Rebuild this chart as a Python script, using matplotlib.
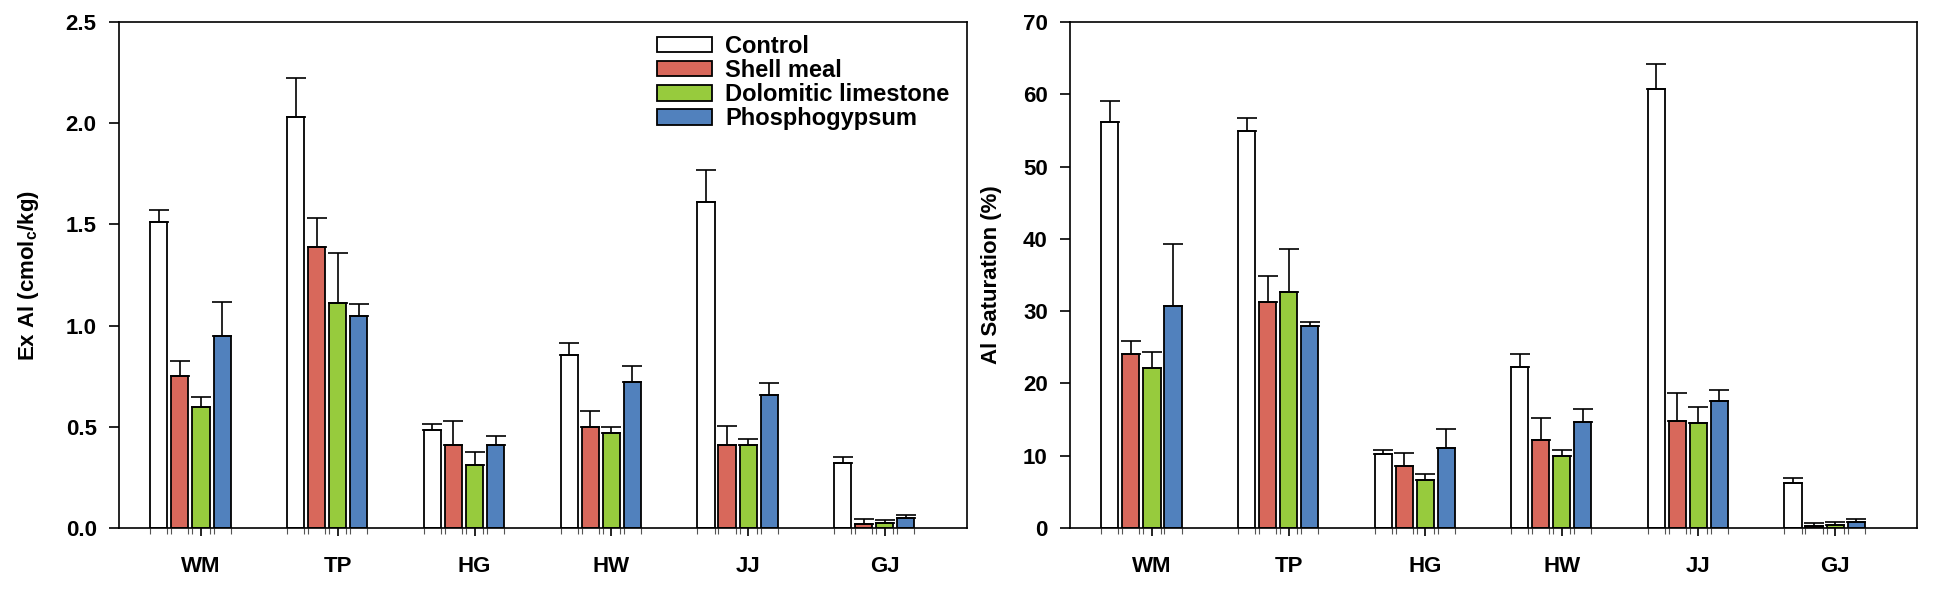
import numpy as np
import matplotlib
matplotlib.use("Agg")
import matplotlib.pyplot as plt

plt.rcParams["font.family"] = ["Liberation Sans", "DejaVu Sans"]
plt.rcParams["font.weight"] = "bold"
plt.rcParams["mathtext.fontset"] = "custom"
plt.rcParams["mathtext.rm"] = "Liberation Sans:bold"
plt.rcParams["mathtext.bf"] = "Liberation Sans:bold"
plt.rcParams["mathtext.it"] = "Liberation Sans:bold"

# 数据
sites = ["WM", "TP", "HG", "HW", "JJ", "GJ"]
treatments = ["Control", "Shell meal", "Dolomitic limestone", "Phosphogypsum"]
colors = ["#FFFFFF", "#D8685B", "#97CB3D", "#5181BD"]

# Ex Al (cmolc/kg)
exal_control = [1.51, 2.03, 0.485, 0.855, 1.61, 0.32]
exal_shell = [0.75, 1.39, 0.41, 0.50, 0.41, 0.02]
exal_dolo = [0.60, 1.11, 0.31, 0.47, 0.41, 0.026]
exal_phos = [0.95, 1.045, 0.41, 0.72, 0.655, 0.048]

exal_control_err = [0.06, 0.195, 0.03, 0.06, 0.16, 0.03]
exal_shell_err = [0.075, 0.14, 0.12, 0.08, 0.095, 0.022]
exal_dolo_err = [0.045, 0.25, 0.065, 0.03, 0.03, 0.015]
exal_phos_err = [0.165, 0.06, 0.045, 0.08, 0.06, 0.016]

# Al saturation (%)
alsat_control = [56.1, 54.9, 10.2, 22.3, 60.7, 6.2]
alsat_shell = [24.1, 31.2, 8.55, 12.15, 14.8, 0.32]
alsat_dolo = [22.2, 32.7, 6.7, 10.0, 14.5, 0.46]
alsat_phos = [30.7, 27.9, 11.0, 14.7, 17.6, 0.83]

alsat_control_err = [2.95, 1.85, 0.6, 1.75, 3.55, 0.65]
alsat_shell_err = [1.8, 3.7, 1.85, 3.05, 3.85, 0.33]
alsat_dolo_err = [2.2, 5.9, 0.8, 0.8, 2.25, 0.37]
alsat_phos_err = [8.65, 0.65, 2.7, 1.7, 1.5, 0.41]


def draw_panel(ax, series, errors, ylim, yticks, fmt, ylabel, label_xy):
    x = np.arange(len(sites))
    step = 0.154
    width = 0.125
    offsets = [-2, -1, 0, 1]
    edges = []
    for vals, errs, c, off, name in zip(series, errors, colors, offsets, treatments):
        xs = x + off * step
        ax.bar(xs, vals, width=width, color=c, edgecolor="black",
               linewidth=1.3, label=name, zorder=2)
        ax.errorbar(xs, vals, yerr=[np.zeros(len(vals)), errs], fmt="none",
                    ecolor="black", elinewidth=1.2, capsize=7, capthick=1.2,
                    zorder=3)
        edges.extend(list(xs - width / 2) + list(xs + width / 2))

    ax.set_xlim(-0.6, 5.6)
    ax.set_ylim(*ylim)
    ax.set_xticks(x)
    ax.set_xticklabels(sites, fontsize=16, fontweight="bold")
    ax.set_xticks(edges, minor=True)
    ax.set_yticks(yticks)
    ax.set_yticklabels([fmt.format(v) for v in yticks], fontsize=16,
                       fontweight="bold")
    ax.tick_params(axis="x", which="major", direction="out", length=6,
                   width=1.2, pad=14)
    ax.tick_params(axis="x", which="minor", direction="out", length=4,
                   width=0.8, color="#555555")
    ax.tick_params(axis="y", direction="out", length=7, width=1.2, pad=9)
    for s in ax.spines.values():
        s.set_linewidth(1.2)
    ax.set_ylabel(ylabel, fontsize=16, fontweight="bold")
    ax.yaxis.set_label_coords(*label_xy)


fig = plt.figure(figsize=(19.37, 5.91), dpi=100)
ax1 = fig.add_axes([0.0614, 0.1066, 0.4378, 0.8562])
ax2 = fig.add_axes([0.5524, 0.1066, 0.4373, 0.8562])

draw_panel(ax1,
           [exal_control, exal_shell, exal_dolo, exal_phos],
           [exal_control_err, exal_shell_err, exal_dolo_err, exal_phos_err],
           (0, 2.5), [0, 0.5, 1.0, 1.5, 2.0, 2.5], "{:.1f}",
           r"Ex Al (cmol$_{c}$/kg)", (-0.092, 0.5))

draw_panel(ax2,
           [alsat_control, alsat_shell, alsat_dolo, alsat_phos],
           [alsat_control_err, alsat_shell_err, alsat_dolo_err, alsat_phos_err],
           (0, 70), [0, 10, 20, 30, 40, 50, 60, 70], "{:.0f}",
           "Al Saturation (%)", (-0.080, 0.5))

ax1.legend(loc="upper left", bbox_to_anchor=(0.635, 0.975), frameon=False,
           prop={"size": 17, "weight": "bold"}, handlelength=2.33,
           handleheight=0.64, handletextpad=0.55, labelspacing=0.05,
           borderpad=0, borderaxespad=0)

fig.savefig("out.png", dpi=100)
